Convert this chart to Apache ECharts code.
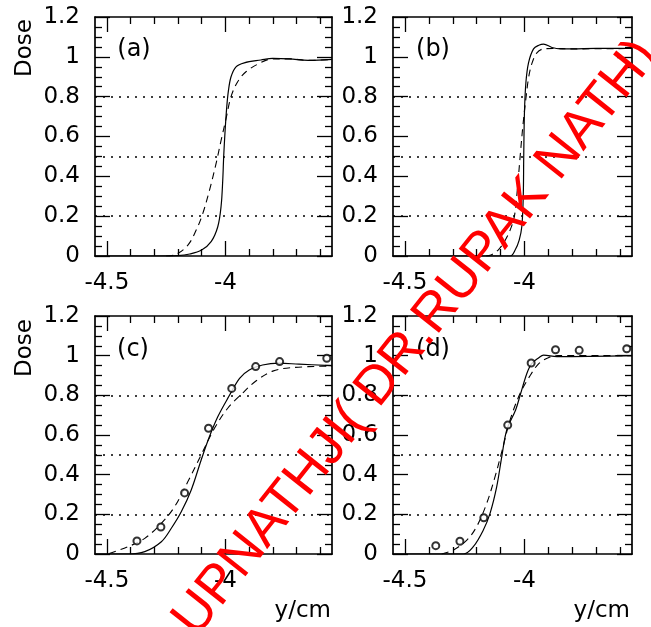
<!DOCTYPE html>
<html>
<head>
<meta charset="utf-8">
<script src="https://cdn.jsdelivr.net/npm/echarts@6/dist/echarts.min.js"></script>
<style>
html,body{margin:0;padding:0;background:#fff;}
#chart{width:651px;height:627px;}
</style>
</head>
<body>
<div id="chart"></div>
<script>
// ---- data ----
var xMajorTicks = [-4.5, -4];
var xMinorTicks = [-4.4, -4.3, -4.2, -4.1, -3.9, -3.8, -3.7, -3.6];
var refLevels = [0.2, 0.5, 0.8];
var panelLabels = ['(a)', '(b)', '(c)', '(d)'];

var aSolidX = [-4.55, -4.30, -4.20, -4.15, -4.10, -4.06, -4.032, -4.018, -4.011, -4.007, -4.001, -3.994, -3.987, -3.976, -3.955, -3.92, -3.85, -3.80, -3.73, -3.65, -3.55];
var aSolidY = [0, 0, 0.002, 0.01, 0.03, 0.072, 0.147, 0.25, 0.38, 0.5, 0.63, 0.75, 0.83, 0.90, 0.95, 0.97, 0.984, 0.992, 0.99, 0.982, 0.987];
var aDashX = [-4.25, -4.214, -4.158, -4.123, -4.095, -4.067, -4.039, -4.018, -3.997, -3.976, -3.948, -3.913, -3.857, -3.80, -3.73, -3.65, -3.55];
var aDashY = [0, 0.005, 0.055, 0.13, 0.214, 0.33, 0.465, 0.58, 0.69, 0.80, 0.875, 0.925, 0.967, 0.99, 0.99, 0.982, 0.987];

var bSolidX = [-4.55, -4.06, -4.039, -4.022, -4.011, -4.005, -4.003, -4.0, -3.994, -3.983, -3.962, -3.94, -3.92, -3.885, -3.85, -3.80, -3.70, -3.55];
var bSolidY = [0, 0, 0.03, 0.08, 0.148, 0.3, 0.5, 0.72, 0.87, 0.97, 1.04, 1.058, 1.064, 1.047, 1.04, 1.04, 1.042, 1.042];
var bDashX = [-4.16, -4.14, -4.11, -4.085, -4.06, -4.042, -4.03, -4.018, -4.006, -3.993, -3.982, -3.968, -3.948, -3.92, -3.88, -3.80, -3.55];
var bDashY = [0, 0.005, 0.03, 0.07, 0.13, 0.2, 0.33, 0.5, 0.66, 0.8, 0.9, 0.97, 1.02, 1.04, 1.042, 1.04, 1.042];

var cSolidX = [-4.55, -4.41, -4.34, -4.27, -4.228, -4.186, -4.144, -4.102, -4.067, -4.032, -3.985, -3.94, -3.899, -3.843, -3.773, -3.689, -3.55];
var cSolidY = [0, 0, 0.012, 0.062, 0.13, 0.213, 0.323, 0.474, 0.592, 0.692, 0.795, 0.886, 0.928, 0.953, 0.962, 0.957, 0.95];
var cDashX = [-4.49, -4.41, -4.34, -4.27, -4.214, -4.158, -4.102, -4.046, -3.99, -3.93, -3.871, -3.80, -3.716, -3.55];
var cDashY = [0.003, 0.037, 0.079, 0.155, 0.239, 0.365, 0.5, 0.634, 0.735, 0.808, 0.872, 0.922, 0.94, 0.948];
var cMeasX = [-4.373, -4.272, -4.172, -4.071, -3.973, -3.872, -3.771, -3.572];
var cMeasY = [0.066, 0.136, 0.308, 0.634, 0.835, 0.945, 0.970, 0.987];

var dSolidX = [-4.55, -4.256, -4.214, -4.172, -4.144, -4.116, -4.095, -4.074, -4.037, -4.018, -3.99, -3.97, -3.94, -3.92, -3.864, -3.55];
var dSolidY = [0, 0, 0.037, 0.121, 0.205, 0.34, 0.49, 0.625, 0.726, 0.80, 0.91, 0.96, 0.99, 1.003, 0.995, 1.0];
var dDashX = [-4.346, -4.297, -4.241, -4.2, -4.158, -4.123, -4.093, -4.06, -4.018, -3.976, -3.94, -3.90, -3.86, -3.55];
var dDashY = [0, 0.02, 0.07, 0.138, 0.255, 0.39, 0.524, 0.676, 0.81, 0.90, 0.96, 0.99, 1.0, 1.0];
var dMeasX = [-4.371, -4.27, -4.17, -4.07, -3.972, -3.87, -3.771, -3.572];
var dMeasY = [0.042, 0.064, 0.183, 0.65, 0.963, 1.03, 1.027, 1.035];

var watermarkText = 'UPNATHJI( DR.RUPAK NATH)';

// ---- build ----
function pairs(xs, ys) { return xs.map(function (x, i) { return [x, ys[i]]; }); }

var FONT = 'DejaVu Sans';
var grids = [
  { left: 95, top: 17, width: 237, height: 239 },
  { left: 393, top: 17, width: 239, height: 239 },
  { left: 95, top: 316, width: 237, height: 238 },
  { left: 393, top: 316, width: 239, height: 238 }
];
var panels = [
  { solid: pairs(aSolidX, aSolidY), dash: pairs(aDashX, aDashY) },
  { solid: pairs(bSolidX, bSolidY), dash: pairs(bDashX, bDashY) },
  { solid: pairs(cSolidX, cSolidY), dash: pairs(cDashX, cDashY), meas: pairs(cMeasX, cMeasY) },
  { solid: pairs(dSolidX, dSolidY), dash: pairs(dDashX, dDashY), meas: pairs(dMeasX, dMeasY) }
];

var xAxes = [], yAxes = [], series = [];
var lineCol = '#000';
grids.forEach(function (g, i) {
  function xa(pos, ticks, len, showLine, showLabel) {
    return {
      gridIndex: i, type: 'value', min: -4.55, max: -3.55, position: pos,
      axisLine: { show: showLine, onZero: false, lineStyle: { color: lineCol, width: 1.7 } },
      axisTick: { show: true, inside: true, length: len, customValues: ticks, lineStyle: { color: lineCol, width: 1.3 } },
      axisLabel: showLabel ? { show: true, customValues: xMajorTicks, margin: 16, fontSize: 23, fontFamily: FONT, color: '#000' } : { show: false },
      splitLine: { show: false }
    };
  }
  xAxes.push(xa('bottom', xMajorTicks, 15, true, true));
  xAxes.push(xa('bottom', xMinorTicks, 7, false, false));
  xAxes.push(xa('top', xMajorTicks, 15, true, false));
  xAxes.push(xa('top', xMinorTicks, 7, false, false));
  function ya(pos, showLabel) {
    return {
      gridIndex: i, type: 'value', min: 0, max: 1.2, interval: 0.2, position: pos,
      axisLine: { show: true, onZero: false, lineStyle: { color: lineCol, width: 1.7 } },
      axisTick: { show: true, inside: true, length: 15, lineStyle: { color: lineCol, width: 1.3 } },
      minorTick: { show: true, splitNumber: 4, length: 7, lineStyle: { color: lineCol, width: 1.3 } },
      axisLabel: showLabel ? { show: true, margin: 15, fontSize: 23, fontFamily: FONT, color: '#000' } : { show: false },
      splitLine: { show: false }, minorSplitLine: { show: false }
    };
  }
  yAxes.push(ya('left', true));
  yAxes.push(ya('right', false));

  var p = panels[i];
  series.push({
    type: 'line', xAxisIndex: 4 * i, yAxisIndex: 2 * i, data: p.solid,
    showSymbol: false, smooth: 0.35,
    lineStyle: { color: '#000', width: 1.2, type: 'solid' },
    markLine: {
      silent: true, symbol: ['none', 'none'], label: { show: false },
      lineStyle: { color: '#000', width: 1.6, type: [2, 6] },
      data: refLevels.map(function (v) { return { yAxis: v }; })
    }
  });
  series.push({
    type: 'line', xAxisIndex: 4 * i, yAxisIndex: 2 * i, data: p.dash,
    showSymbol: false, smooth: 0.35,
    lineStyle: { color: '#000', width: 1.1, type: [7, 5] }
  });
  if (p.meas) {
    series.push({
      type: 'scatter', xAxisIndex: 4 * i, yAxisIndex: 2 * i, data: p.meas,
      symbol: 'emptyCircle', symbolSize: 7, z: 5,
      itemStyle: { color: '#000', borderWidth: 1.2 }
    });
  }
});

var textStyle = function (t, size, align) {
  return { text: t, fill: '#000', font: size + 'px "' + FONT + '"', textAlign: align || 'center', textVerticalAlign: 'middle' };
};
var graphics = [
  { type: 'text', x: 25, y: 48, rotation: Math.PI / 2, style: textStyle('Dose', 23) },
  { type: 'text', x: 25, y: 348, rotation: Math.PI / 2, style: textStyle('Dose', 23) },
  { type: 'text', x: 134, y: 50, style: textStyle(panelLabels[0], 24) },
  { type: 'text', x: 433, y: 50, style: textStyle(panelLabels[1], 24) },
  { type: 'text', x: 133, y: 350, style: textStyle(panelLabels[2], 24) },
  { type: 'text', x: 433, y: 350, style: textStyle(panelLabels[3], 24) },
  { type: 'text', x: 331, y: 611, style: textStyle('y/cm', 23, 'right') },
  { type: 'text', x: 630, y: 611, style: textStyle('y/cm', 23, 'right') },
  { type: 'text', x: 416, y: 338, z: 100, rotation: 51.5 * Math.PI / 180,
    style: { text: watermarkText, fill: '#ff0000', font: '54px "Liberation Sans"', textAlign: 'center', textVerticalAlign: 'middle' } }
];

var chart = echarts.init(document.getElementById('chart'), null, { renderer: 'canvas' });
chart.setOption({
  animation: false,
  backgroundColor: '#fff',
  grid: grids,
  xAxis: xAxes,
  yAxis: yAxes,
  series: series,
  graphic: graphics
});
</script>
</body>
</html>
